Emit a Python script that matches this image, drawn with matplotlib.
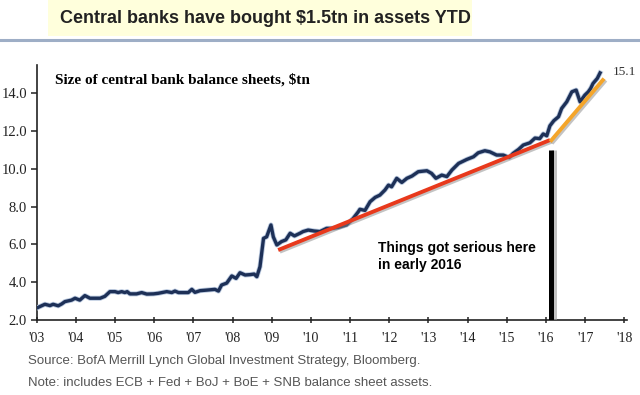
import matplotlib
matplotlib.use("Agg")
import matplotlib.pyplot as plt
import matplotlib.patheffects as pe

# ── Data ───────────────────────────────────────────────────────────────────────

YEARS = [
    2003.02, 2003.21, 2003.34, 2003.42, 2003.55, 2003.64, 2003.72, 2003.89, 2003.98,
    2004.10, 2004.23, 2004.36, 2004.62, 2004.74, 2004.87, 2005.00, 2005.08, 2005.17,
    2005.25, 2005.31, 2005.38, 2005.55, 2005.68, 2005.81, 2005.98, 2006.10, 2006.32,
    2006.45, 2006.53, 2006.62, 2006.74, 2006.87, 2006.96, 2007.04, 2007.17, 2007.34,
    2007.55, 2007.64, 2007.72, 2007.85, 2007.98, 2008.09, 2008.19, 2008.32, 2008.45,
    2008.55, 2008.62, 2008.70, 2008.79, 2008.87, 2008.98, 2009.04, 2009.13, 2009.25,
    2009.36, 2009.47, 2009.58, 2009.72, 2009.80, 2009.93, 2010.08, 2010.23, 2010.40,
    2010.55, 2010.70, 2010.91, 2011.08, 2011.21, 2011.25, 2011.38, 2011.51, 2011.64,
    2011.76, 2011.89, 2011.98, 2012.06, 2012.19, 2012.32, 2012.45, 2012.58, 2012.74,
    2012.96, 2013.08, 2013.19, 2013.34, 2013.47, 2013.60, 2013.77, 2013.98, 2014.15,
    2014.27, 2014.44, 2014.57, 2014.74, 2014.91, 2015.06, 2015.16, 2015.30, 2015.42,
    2015.59, 2015.72, 2015.84, 2015.93, 2016.02, 2016.10, 2016.20, 2016.32, 2016.40,
    2016.53, 2016.66, 2016.77, 2016.87, 2016.99, 2017.08, 2017.14, 2017.20, 2017.31,
    2017.38,
]
ASSETS = [
    2.65, 2.83, 2.76, 2.83, 2.75, 2.85, 2.97, 3.05, 3.15,
    3.05, 3.29, 3.15, 3.15, 3.25, 3.50, 3.50, 3.45, 3.50,
    3.45, 3.50, 3.38, 3.38, 3.45, 3.37, 3.38, 3.41, 3.50,
    3.45, 3.53, 3.45, 3.45, 3.45, 3.62, 3.46, 3.55, 3.58,
    3.62, 3.53, 3.85, 3.95, 4.33, 4.20, 4.50, 4.38, 4.40,
    4.43, 4.29, 4.82, 6.32, 6.40, 7.03, 6.40, 5.97, 6.15,
    6.24, 6.59, 6.45, 6.59, 6.68, 6.76, 6.71, 6.68, 6.85,
    6.85, 6.90, 7.03, 7.38, 7.73, 7.86, 7.80, 8.26, 8.49,
    8.61, 8.88, 9.14, 9.05, 9.50, 9.28, 9.50, 9.62, 9.85,
    9.90, 9.76, 9.50, 9.67, 9.59, 9.94, 10.29, 10.50, 10.64,
    10.85, 10.96, 10.90, 10.73, 10.73, 10.60, 10.82, 11.03, 11.26,
    11.38, 11.63, 11.60, 11.85, 11.75, 12.28, 12.55, 12.76, 13.20,
    13.55, 14.08, 14.17, 13.55, 13.90, 14.08, 14.26, 14.52, 14.79,
    15.08,
]

# hand-drawn trend lines (start, end)
RED_TREND_X = [2009.21, 2016.06]
RED_TREND_Y = [5.74, 11.49]
ORANGE_TREND_X = [2016.14, 2017.45]
ORANGE_TREND_Y = [11.52, 14.70]
MARKER_X = 2016.13
MARKER_TOP = 11.0

X_TICKS = list(range(2003, 2019))
X_LABELS = ["'%02d" % (y % 100) for y in X_TICKS]
Y_TICKS = [2, 4, 6, 8, 10, 12, 14]
LAST_LABEL = "15.1"

# ── Plot ───────────────────────────────────────────────────────────────────────

SERIF = ["Liberation Serif", "DejaVu Serif"]
SANS = ["Liberation Sans", "DejaVu Sans"]

fig = plt.figure(figsize=(6.4, 3.95), dpi=100)
fig.patch.set_facecolor("white")

# headline strip
fig.patches.append(plt.Rectangle((0.075, 0.91), 0.662, 0.09, transform=fig.transFigure,
                                 facecolor="#ffffdc", edgecolor="none"))
fig.text(0.094, 0.952, "Central banks have bought $1.5tn in assets YTD", family=SANS,
         fontsize=13, fontweight="bold", color="#222222", va="center", ha="left")
fig.lines.append(plt.Line2D([0, 1], [0.898, 0.898], transform=fig.transFigure,
                            color="#9eaec6", lw=2.2))

ax = fig.add_axes([0.0573, 0.19, 0.9219, 0.645])
ax.set_xlim(2003, 2018.06)
ax.set_ylim(2, 15.49)

shadow = [pe.SimpleLineShadow(offset=(1.2, -1.2), shadow_color="#888888", alpha=0.5), pe.Normal()]

ax.plot(YEARS, ASSETS, color="#1d3057", lw=2.4, solid_joinstyle="round", zorder=4,
        path_effects=[pe.Stroke(linewidth=3.6, foreground="#b9c8de"), pe.Normal()])
ax.plot(RED_TREND_X, RED_TREND_Y, color="#e8391c", lw=2.8, zorder=5, path_effects=shadow)
ax.plot(ORANGE_TREND_X, ORANGE_TREND_Y, color="#f4a52a", lw=2.8, zorder=5, path_effects=shadow)
ax.plot([MARKER_X, MARKER_X], [2, MARKER_TOP], color="black", lw=3.6, zorder=5,
        solid_capstyle="butt",
        path_effects=[pe.SimpleLineShadow(offset=(2, 0), shadow_color="#999999", alpha=0.6),
                      pe.Normal()])

ax.text(YEARS[-1] + 0.33, ASSETS[-1] + 0.05, LAST_LABEL, family=SERIF, fontsize=9.5,
        color="#333333", va="center", ha="left")
ax.text(2003.47, 14.72, "Size of central bank balance sheets, $tn", family=SERIF,
        fontsize=11, fontweight="bold", va="center", ha="left")
ax.text(2011.7, 6.2, "Things got serious here\nin early 2016", family=SANS,
        fontsize=10, fontweight="bold", va="top", ha="left", linespacing=1.35)

for s in ("top", "right"):
    ax.spines[s].set_visible(False)
for s in ("left", "bottom"):
    ax.spines[s].set_color("#222222")
    ax.spines[s].set_linewidth(1.2)

ax.set_xticks(X_TICKS)
ax.set_xticklabels(X_LABELS, family=SERIF, fontsize=10)
ax.set_yticks(Y_TICKS)
ax.set_yticklabels(["%.1f" % v for v in Y_TICKS], family=SERIF, fontsize=10.5)
ax.tick_params(axis="both", direction="inout", length=5, width=1.1, color="#222222",
               labelcolor="#222222", pad=6)
ax.tick_params(axis="y", direction="out", length=4, pad=3)

fig.text(0.044, 0.085, "Source: BofA Merrill Lynch Global Investment Strategy, Bloomberg.",
         family=SANS, fontsize=9.5, color="#555555", va="center", ha="left")
fig.text(0.044, 0.031, "Note: includes ECB + Fed + BoJ + BoE + SNB balance sheet assets.",
         family=SANS, fontsize=9.5, color="#555555", va="center", ha="left")

fig.savefig("out.png", dpi=100)
